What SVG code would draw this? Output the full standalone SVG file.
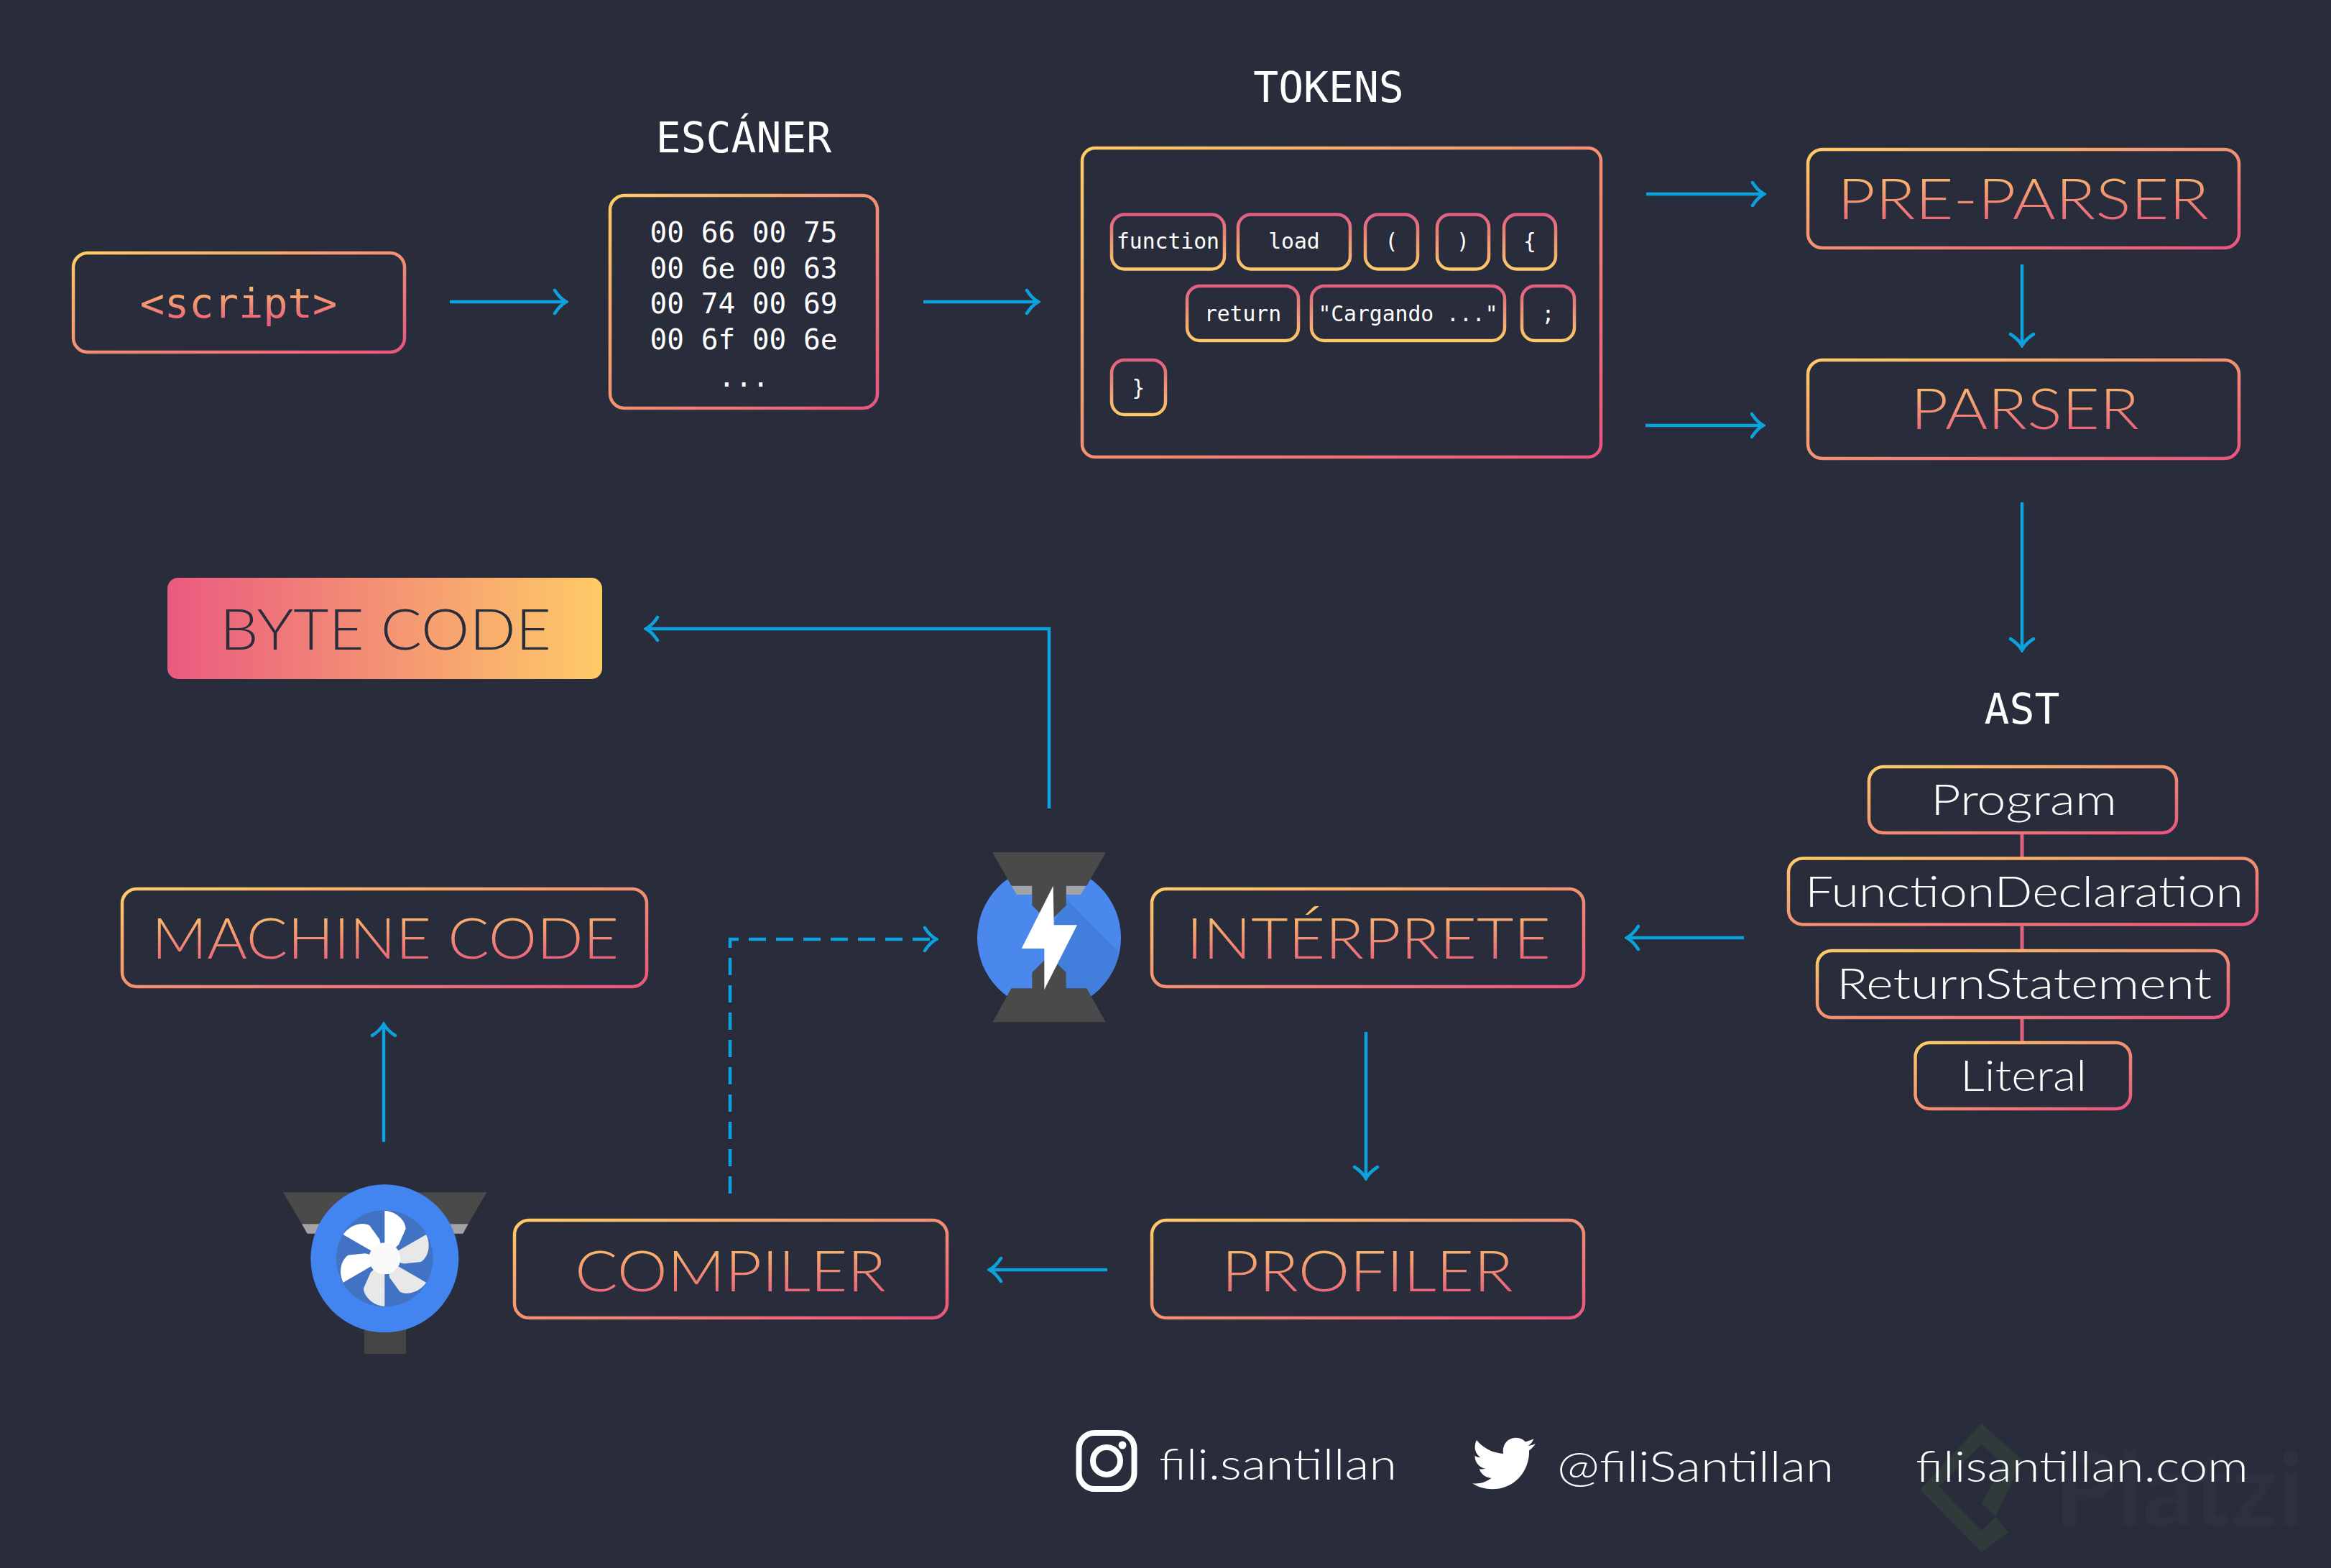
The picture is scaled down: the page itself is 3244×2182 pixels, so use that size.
<svg xmlns="http://www.w3.org/2000/svg" width="3244" height="2182" viewBox="0 0 3244 2182">
<style>
.box{fill:none;stroke:url(#gb);stroke-width:4.5}
.tok{fill:none;stroke:url(#gt);stroke-width:4.5}
.cap{font-family:"Lato","Liberation Sans",sans-serif;font-weight:300;font-size:78px;fill:url(#gx)}
.wl{font-family:"Lato","Liberation Sans",sans-serif;font-weight:300;font-size:60px;fill:#fff}
.ft{font-family:"Lato","Liberation Sans",sans-serif;font-weight:300;font-size:60px;fill:#fff}
.m{font-family:"DejaVu Sans Mono","Liberation Mono",monospace;fill:#fff;text-anchor:middle}
.title{font-size:58px}.hex{font-size:39.4px}.t{font-size:29.7px}
.ar{fill:none;stroke:#0ba2dd;stroke-width:4.5;marker-end:url(#arr)}
.lk{stroke:#e0607f;stroke-width:5}
.d{fill:#4a4a4a}.l{fill:#a3a3a3}
</style>
<defs>
<linearGradient id="gb" x1="0" y1="0" x2="1" y2="1"><stop offset="0" stop-color="#ffcc66"/><stop offset="1" stop-color="#e8557f"/></linearGradient>
<linearGradient id="gt" x1="0" y1="0" x2="0" y2="1"><stop offset="0" stop-color="#e05e80"/><stop offset="1" stop-color="#fdca68"/></linearGradient>
<linearGradient id="gx" x1="0" y1="0.1" x2="0.08" y2="0.95"><stop offset="0" stop-color="#fdc768"/><stop offset="1" stop-color="#e95c7d"/></linearGradient>
<linearGradient id="gf" x1="0" y1="0" x2="1" y2="0"><stop offset="0" stop-color="#ea5a80"/><stop offset="1" stop-color="#fecb67"/></linearGradient>
<marker id="arr" markerUnits="userSpaceOnUse" viewBox="-20 -20 24 40" markerWidth="24" markerHeight="40" refX="0" refY="0" orient="auto"><path d="M-15,-16Q-8,-5 1,0Q-8,5 -15,16" fill="none" stroke="#0ba2dd" stroke-width="4.5" stroke-linecap="round"/></marker>
<clipPath id="c1"><circle cx="1460" cy="1305" r="100"/></clipPath>
<path id="blade" d="M496,194C545,197 583,235 584,270L555,335L496,394Z"/>
</defs>
<rect width="3244" height="2182" fill="#292c3a"/>

<g id="watermark">
<path d="M2757.5,1981L2815,2032L2777,2110L2795,2132L2757.5,2160L2672,2073ZM2757.5,2010L2698,2068L2757.5,2130L2777,2110L2757.5,2092L2788,2038Z" fill="#2f3a3b" fill-rule="evenodd"/>
<text x="2859" y="2123" font-family="Lato,sans-serif" font-weight="700" font-size="142" fill="#2d303e" textLength="347" lengthAdjust="spacingAndGlyphs">Platzi</text>
</g>

<g id="connectors">
<path class="ar" d="M626,420H787"/>
<path class="ar" d="M1285,420H1444"/>
<path class="ar" d="M2291,270H2454"/>
<path class="ar" d="M2290,592H2453"/>
<path class="ar" d="M2814,368V480"/>
<path class="ar" d="M2814,699V904"/>
<path class="ar" d="M2427,1305H2265"/>
<path class="ar" d="M1901,1436V1639"/>
<path class="ar" d="M1541,1767H1378"/>
<path class="ar" d="M534,1589V1426"/>
<path class="ar" stroke-dasharray="24 14" d="M1016,1661V1307H1302"/>
<path class="ar" d="M1460,1125V875H900"/>
<path class="lk" d="M2814,1161V1193M2814,1289V1321M2814,1418V1449"/>
</g>

<g id="script"><rect class="box" x="102" y="352" width="461" height="138" rx="20"/>
<text class="m" x="332" y="442" font-size="57" fill="url(#gx)" style="fill:url(#gx)">&lt;script&gt;</text></g>

<g id="escaner"><text class="m title" x="1035" y="212">ESCÁNER</text>
<rect class="box" x="849" y="272" width="372" height="296" rx="20"/>
<text class="m hex" x="1035" y="337" xml:space="preserve">00 66 00 75</text>
<text class="m hex" x="1035" y="386.500" xml:space="preserve">00 6e 00 63</text>
<text class="m hex" x="1035" y="436" xml:space="preserve">00 74 00 69</text>
<text class="m hex" x="1035" y="486" xml:space="preserve">00 6f 00 6e</text>
<text class="m hex" x="1035" y="538">...</text></g>

<g id="tokens"><text class="m title" x="1849" y="142">TOKENS</text>
<rect class="box" x="1506" y="206" width="722" height="430" rx="18"/>
<rect class="tok" x="1547" y="298.500" width="157" height="76" rx="18"/><text class="m t" x="1625.500" y="346">function</text>
<rect class="tok" x="1723" y="298.500" width="156" height="76" rx="18"/><text class="m t" x="1801" y="346">load</text>
<rect class="tok" x="1900" y="298.500" width="73" height="76" rx="18"/><text class="m t" x="1936.500" y="346">(</text>
<rect class="tok" x="2000" y="298.500" width="72" height="76" rx="18"/><text class="m t" x="2036" y="346">)</text>
<rect class="tok" x="2093" y="298.500" width="72" height="76" rx="18"/><text class="m t" x="2129" y="346">{</text>
<rect class="tok" x="1652" y="398" width="155" height="76" rx="18"/><text class="m t" x="1729.500" y="447">return</text>
<rect class="tok" x="1825" y="398" width="269" height="76" rx="18"/><text class="m t" x="1959.500" y="447">"Cargando ..."</text>
<rect class="tok" x="2118" y="398" width="73" height="76" rx="18"/><text class="m t" x="2154.500" y="447">;</text>
<rect class="tok" x="1547" y="501" width="75" height="76" rx="18"/><text class="m t" x="1584.500" y="550">}</text></g>

<g id="pre-parser"><rect class="box" x="2516" y="208" width="600" height="137" rx="20"/>
<text class="cap" x="2557" y="305" textLength="517" lengthAdjust="spacingAndGlyphs">PRE-PARSER</text></g>
<g id="parser"><rect class="box" x="2516" y="501" width="600" height="137" rx="20"/>
<text class="cap" x="2659" y="597" textLength="318" lengthAdjust="spacingAndGlyphs">PARSER</text></g>

<g id="ast-title"><text class="m title" x="2814" y="1007">AST</text></g>
<g id="program"><rect class="box" x="2601" y="1067" width="428" height="92" rx="20"/>
<text class="wl" x="2687" y="1134" textLength="259" lengthAdjust="spacingAndGlyphs">Program</text></g>
<g id="function-declaration"><rect class="box" x="2489" y="1194.500" width="652" height="92" rx="20"/>
<text class="wl" x="2512" y="1262" textLength="610" lengthAdjust="spacingAndGlyphs">FunctionDeclaration</text></g>
<g id="return-statement"><rect class="box" x="2529" y="1323" width="572" height="93" rx="20"/>
<text class="wl" x="2556" y="1389.500" textLength="522" lengthAdjust="spacingAndGlyphs">ReturnStatement</text></g>
<g id="literal"><rect class="box" x="2665.500" y="1451" width="299.500" height="92" rx="20"/>
<text class="wl" x="2728" y="1517.500" textLength="176" lengthAdjust="spacingAndGlyphs">Literal</text></g>

<g id="byte-code"><rect x="233" y="804" width="605" height="141" rx="15" fill="url(#gf)"/>
<text x="306" y="903.500" font-family="Lato,sans-serif" font-weight="300" font-size="78" fill="#292c3a" textLength="461" lengthAdjust="spacingAndGlyphs">BYTE CODE</text></g>
<g id="machine-code"><rect class="box" x="170" y="1237" width="730" height="136" rx="20"/>
<text class="cap" x="211" y="1334" textLength="650" lengthAdjust="spacingAndGlyphs">MACHINE CODE</text></g>
<g id="interprete"><rect class="box" x="1603" y="1237" width="601" height="136" rx="20"/>
<text class="cap" x="1651" y="1334" textLength="507" lengthAdjust="spacingAndGlyphs">INTÉRPRETE</text></g>
<g id="compiler"><rect class="box" x="716" y="1698" width="602" height="136" rx="20"/>
<text class="cap" x="800" y="1797" textLength="433" lengthAdjust="spacingAndGlyphs">COMPILER</text></g>
<g id="profiler"><rect class="box" x="1603" y="1698" width="601" height="136" rx="20"/>
<text class="cap" x="1700" y="1797" textLength="406" lengthAdjust="spacingAndGlyphs">PROFILER</text></g>

<g id="ignition-icon">
<circle cx="1460" cy="1305" r="100" fill="#4a88ee"/>
<path d="M1483,1250L1570,1338V1420H1460V1300Z" fill="#427fdd" clip-path="url(#c1)"/>
<g transform="translate(1300 1150) scale(.33333)">
<path class="l" d="M323,248H409V285H345ZM551,248H633L612,285H551Z"/>
<path class="d" d="M243,108H717L637,248H551V330L480,400L409,330V248H323Z"/>
<path class="d" d="M245,817L322,676H409V610L480,540L551,610V676H637L716,817Z"/>
<path fill="#fff" d="M497,248L500,412H597L460,682V510H365Z"/>
</g></g>

<g id="turbofan-icon" transform="translate(370 1620) scale(.33333)">
<path class="d" d="M72,118H922L845,250H150Z"/>
<path class="l" d="M150,250H845L823,290H173Z"/>
<rect x="410" y="660" width="175" height="132" fill="#444"/>
<circle cx="496" cy="394" r="309" fill="#4285f0"/>
<circle cx="496" cy="394" r="202" fill="#4272c4"/>
<use href="#blade" fill="#fff"/>
<use href="#blade" fill="#e8e8e8" transform="rotate(60 496 394)"/>
<use href="#blade" fill="#e8e8e8" transform="rotate(120 496 394)"/>
<use href="#blade" fill="#e8e8e8" transform="rotate(180 496 394)"/>
<use href="#blade" fill="#fff" transform="rotate(240 496 394)"/>
<use href="#blade" fill="#fff" transform="rotate(300 496 394)"/>
<circle cx="496" cy="394" r="66" fill="#fafafa"/>
</g>

<g id="instagram">
<rect x="1501.500" y="1994" width="77" height="78" rx="22" fill="none" stroke="#fff" stroke-width="8"/>
<circle cx="1540" cy="2033" r="19" fill="none" stroke="#fff" stroke-width="8"/>
<circle cx="1562" cy="2011" r="5.500" fill="#fff"/>
<text class="ft" x="1613" y="2059" textLength="331" lengthAdjust="spacingAndGlyphs">fili.santillan</text></g>
<g id="twitter">
<path transform="translate(2049 1992.500) scale(3.667)" fill="#fff" d="M23.953 4.57a10 10 0 01-2.825.775 4.958 4.958 0 002.163-2.723c-.951.555-2.005.959-3.127 1.184a4.92 4.92 0 00-8.384 4.482C7.69 8.095 4.067 6.13 1.64 3.162a4.822 4.822 0 00-.666 2.475c0 1.71.87 3.213 2.188 4.096a4.904 4.904 0 01-2.228-.616v.06a4.923 4.923 0 003.946 4.827 4.996 4.996 0 01-2.212.085 4.936 4.936 0 004.604 3.417 9.867 9.867 0 01-6.102 2.105c-.39 0-.779-.023-1.17-.067a13.995 13.995 0 007.557 2.209c9.053 0 13.998-7.496 13.998-13.985 0-.21 0-.42-.015-.63A9.935 9.935 0 0024 4.59z"/>
<text class="ft" x="2167" y="2061.500" textLength="385" lengthAdjust="spacingAndGlyphs">@filiSantillan</text></g>
<g id="website"><text class="ft" x="2666" y="2061.500" textLength="463" lengthAdjust="spacingAndGlyphs">filisantillan.com</text></g>
</svg>
